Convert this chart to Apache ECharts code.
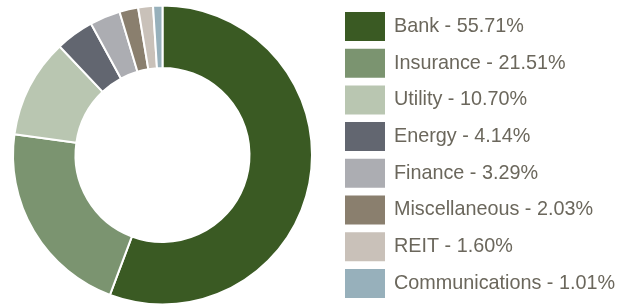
<!DOCTYPE html>
<html>
<head>
<meta charset="utf-8">
<script src="https://cdn.jsdelivr.net/npm/echarts@6/dist/echarts.min.js"></script>
<style>
  html, body { margin: 0; padding: 0; background: #fff; }
  #chart { width: 625px; height: 306px; }
</style>
</head>
<body>
<div id="chart"></div>
<script>
var sectors = ['Bank', 'Insurance', 'Utility', 'Energy', 'Finance', 'Miscellaneous', 'REIT', 'Communications'];
var weights = [55.71, 21.51, 10.70, 4.14, 3.29, 2.03, 1.60, 1.01];
var colors = ['#3a5a23', '#7b9470', '#b9c6b1', '#626670', '#acadb2', '#8a7f6e', '#c9c1b9', '#97b0bb'];

var myChart = echarts.init(document.getElementById('chart'));

var option = {
  color: colors,
  animation: false,
  legend: {
    orient: 'vertical',
    left: 345,
    top: 12,
    height: 294,
    padding: 0,
    icon: 'rect',
    itemWidth: 40,
    itemHeight: 29,
    itemGap: 7.7,
    itemStyle: { borderWidth: 0 },
    textStyle: {
      fontFamily: 'Liberation Sans, Arial, sans-serif',
      fontSize: 19.8,
      color: '#6b675c',
      padding: [0, 0, 0, 4]
    },
    formatter: function (name) {
      var i = sectors.indexOf(name);
      return name + ' - ' + weights[i].toFixed(2) + '%';
    },
    data: sectors
  },
  series: [
    {
      type: 'pie',
      center: [162.5, 155],
      radius: [87, 149.5],
      startAngle: 90,
      clockwise: true,
      label: { show: false },
      labelLine: { show: false },
      itemStyle: { borderColor: '#fff', borderWidth: 2 },
      data: sectors.map(function (s, i) {
        return { name: s, value: weights[i] };
      })
    }
  ]
};

myChart.setOption(option);
</script>
</body>
</html>
